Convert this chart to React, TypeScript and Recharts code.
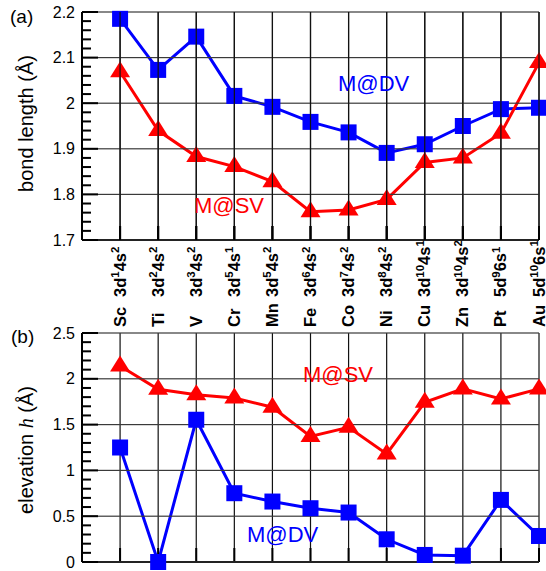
import { LineChart, Line, XAxis, YAxis } from 'recharts';

const elements = ['Sc', 'Ti', 'V', 'Cr', 'Mn', 'Fe', 'Co', 'Ni', 'Cu', 'Zn', 'Pt', 'Au'];
// electron configuration, as [orbital, superscript] pairs
const configs: [string, string][][] = [
  [['3d', '1'], ['4s', '2']],
  [['3d', '2'], ['4s', '2']],
  [['3d', '3'], ['4s', '2']],
  [['3d', '5'], ['4s', '1']],
  [['3d', '5'], ['4s', '2']],
  [['3d', '6'], ['4s', '2']],
  [['3d', '7'], ['4s', '2']],
  [['3d', '8'], ['4s', '2']],
  [['3d', '10'], ['4s', '1']],
  [['3d', '10'], ['4s', '2']],
  [['5d', '9'], ['6s', '1']],
  [['5d', '10'], ['6s', '1']],
];

// (a) bond length, Å
const bondDV = [2.185, 2.073, 2.146, 2.016, 1.992, 1.959, 1.936, 1.891, 1.91, 1.95, 1.987, 1.99];
const bondSV = [2.069, 1.94, 1.883, 1.861, 1.828, 1.762, 1.766, 1.789, 1.87, 1.88, 1.934, 2.089];

// (b) elevation h, Å
const elevDV = [1.25, 0.0, 1.553, 0.751, 0.66, 0.587, 0.54, 0.248, 0.077, 0.069, 0.678, 0.284];
const elevSV = [2.14, 1.885, 1.827, 1.79, 1.69, 1.371, 1.47, 1.18, 1.743, 1.89, 1.78, 1.89];

const bondMajor = [1.7, 1.8, 1.9, 2.0, 2.1, 2.2];
const elevMajor = [0, 0.5, 1, 1.5, 2, 2.5];
const catTicks = elements.map((_, i) => i + 1);

const minorTicks = (lo: number, hi: number, step: number) => {
  const n = Math.round((hi - lo) / step);
  return Array.from({ length: n + 1 }, (_, i) => +(lo + i * step).toFixed(4));
};
const bondMinor = minorTicks(1.7, 2.2, 0.02);
const elevMinor = minorTicks(0, 2.5, 0.1);

const bondRows = elements.map((el, i) => ({ idx: i + 1, name: el, dv: bondDV[i], sv: bondSV[i] }));
const elevRows = elements.map((el, i) => ({ idx: i + 1, name: el, dv: elevDV[i], sv: elevSV[i] }));

const FONT = '"Liberation Sans", Arial, Helvetica, sans-serif';
const BLUE = '#0000ff';
const RED = '#ff0000';
const CHART_W = 546;
const Y_AXIS_W = 82;
const RIGHT = 7;
const PLOT_W = CHART_W - Y_AXIS_W - RIGHT;
const N = elements.length;
const isMajor = (majors: number[], v: number) => majors.some((m) => Math.abs(m - v) < 1e-6);
const fmt = (v: number) => String(+v.toFixed(1));

const squareDot = (props: any) => {
  const { cx, cy, index } = props;
  if (cx == null || cy == null) return <g key={`s-${index}`} />;
  return <rect key={`s-${index}`} x={cx - 8} y={cy - 8} width={16} height={16} fill={BLUE} />;
};

const triangleDot = (props: any) => {
  const { cx, cy, index } = props;
  if (cx == null || cy == null) return <g key={`t-${index}`} />;
  return (
    <polygon
      key={`t-${index}`}
      points={`${cx},${cy - 10.5} ${cx - 10},${cy + 5.5} ${cx + 10},${cy + 5.5}`}
      fill={RED}
    />
  );
};

// helper series: y tick values spread over the rows, chunk k holds ticks k*N .. k*N+N-1
const tickChunk = (minors: number[], k: number) => (row: any) => {
  const v = minors[row.idx - 1 + k * N];
  return v == null ? null : v;
};

// horizontal grid line (majors) and inward tick mark at each y tick
const makeYMarkDot = (minors: number[], majors: number[], k: number) => (props: any) => {
  const { cy, index } = props;
  const v = minors[index + k * N];
  if (v == null || cy == null || Number.isNaN(cy)) return <g key={`ym-${k}-${index}`} />;
  const major = isMajor(majors, v);
  return (
    <g key={`ym-${k}-${index}`}>
      {major && <rect x={Y_AXIS_W} y={cy - 0.6} width={PLOT_W} height={1.2} fill="#3a3a3a" />}
      <rect x={Y_AXIS_W} y={cy - 1} width={major ? 16 : 9} height={2} fill="#000" />
    </g>
  );
};

// vertical grid line and inward tick mark at each category (helper series sits on the bottom edge)
const makeXMarkDot = (plotH: number) => (props: any) => {
  const { cx, cy, index } = props;
  if (cx == null || cy == null) return <g key={`xm-${index}`} />;
  return (
    <g key={`xm-${index}`}>
      <rect x={cx - 0.6} y={cy - plotH} width={1.2} height={plotH} fill="#111" />
      <rect x={cx - 1} y={cy - 14} width={2} height={14} fill="#000" />
    </g>
  );
};

const frameSeries = (minors: number[], majors: number[], lo: number, plotH: number) => [
  <Line
    key="xmarks"
    dataKey={() => lo}
    stroke="none"
    dot={makeXMarkDot(plotH)}
    activeDot={false}
    legendType="none"
    isAnimationActive={false}
  />,
  ...[0, 1, 2].map((k) => (
    <Line
      key={`ymarks-${k}`}
      dataKey={tickChunk(minors, k)}
      stroke="none"
      dot={makeYMarkDot(minors, majors, k)}
      activeDot={false}
      legendType="none"
      isAnimationActive={false}
    />
  )),
];

// category tick of panel (a): rotated element + configuration labels
const CategoryTick = (props: any) => {
  const { x, y, payload } = props;
  const i = payload.value - 1;
  const cfg = configs[i];
  if (!cfg) return <g />;
  return (
    <g>
      <rect x={x - 0.6} y={y - 228} width={1.2} height={228} fill="#111" />
      <rect x={x - 1} y={y - 14} width={2} height={14} fill="#000" />
      <g transform={`translate(${x + 5.5}, ${y}) rotate(-90)`}>
        <text x={-87} y={0} fontSize={16.5} fontWeight="bold" fontFamily={FONT} fill="#000">
          {elements[i]}
        </text>
        <text x={-57} y={0} fontSize={16.5} fontWeight="bold" fontFamily={FONT} fill="#000">
          {cfg.map(([orb, sup], k) => (
            <tspan key={k}>
              <tspan dy={k === 0 ? 0 : 6.5}>{orb}</tspan>
              <tspan dy={-6.5} fontSize={11.5}>{sup}</tspan>
            </tspan>
          ))}
        </text>
      </g>
    </g>
  );
};

const axisStyle = { stroke: '#000', strokeWidth: 2 };
const tickFont = { fontSize: 16, fill: '#000', fontFamily: FONT };

export default function App() {
  return (
    <div style={{ position: 'absolute', left: 0, top: 0, width: 546, height: 571, background: '#fff', overflow: 'hidden' }}>
      <div style={{ position: 'absolute', left: 0, top: 0 }}>
        <LineChart width={CHART_W} height={330} data={bondRows} margin={{ top: 12, right: RIGHT, left: 0, bottom: 0 }}>
          <XAxis
            dataKey="idx"
            type="number"
            domain={[0, 12]}
            ticks={catTicks}
            interval={0}
            height={90}
            tickSize={0}
            tickMargin={0}
            tickLine={false}
            axisLine={axisStyle}
            tick={CategoryTick}
          />
          <YAxis
            type="number"
            domain={[1.7, 2.2]}
            ticks={bondMajor}
            interval={0}
            width={Y_AXIS_W}
            tickSize={0}
            tickMargin={7}
            tickLine={false}
            axisLine={axisStyle}
            tick={tickFont}
            tickFormatter={fmt}
          />
          {frameSeries(bondMinor, bondMajor, 1.7, 228)}
          <Line dataKey="dv" stroke={BLUE} strokeWidth={3} dot={squareDot} isAnimationActive={false} />
          <Line dataKey="sv" stroke={RED} strokeWidth={3} dot={triangleDot} isAnimationActive={false} />
        </LineChart>
      </div>
      <div style={{ position: 'absolute', left: 0, top: 300 }}>
        <LineChart width={CHART_W} height={271} data={elevRows} margin={{ top: 33, right: RIGHT, left: 0, bottom: 0 }}>
          <XAxis
            dataKey="idx"
            type="number"
            domain={[0, 12]}
            ticks={catTicks}
            interval={0}
            height={9}
            tick={false}
            tickLine={false}
            axisLine={axisStyle}
          />
          <YAxis
            type="number"
            domain={[0, 2.5]}
            ticks={elevMajor}
            interval={0}
            width={Y_AXIS_W}
            tickSize={0}
            tickMargin={7}
            tickLine={false}
            axisLine={axisStyle}
            tick={tickFont}
            tickFormatter={fmt}
          />
          {frameSeries(elevMinor, elevMajor, 0, 229)}
          <Line dataKey="sv" stroke={RED} strokeWidth={3} dot={triangleDot} isAnimationActive={false} />
          <Line dataKey="dv" stroke={BLUE} strokeWidth={3} dot={squareDot} isAnimationActive={false} />
        </LineChart>
      </div>
      <svg
        width={546}
        height={571}
        style={{ position: 'absolute', left: 0, top: 0, pointerEvents: 'none' }}
        fontFamily={FONT}
      >
        <text x={10} y={23} fontSize={19} fill="#000">(a)</text>
        <text x={11} y={343} fontSize={19} fill="#000">(b)</text>
        <text x={33} y={123.5} fontSize={20} textAnchor="middle" transform="rotate(-90, 33, 123.5)" fill="#000">
          bond length (Å)
        </text>
        <text x={33} y={450} fontSize={20} textAnchor="middle" transform="rotate(-90, 33, 450)" fill="#000">
          elevation{' '}
          <tspan fontStyle="italic" fontFamily='"Liberation Serif", "Times New Roman", serif'>h</tspan>
          {' '}(Å)
        </text>
        <text x={338} y={91} fontSize={22} fill={BLUE}>M@DV</text>
        <text x={194} y={213} fontSize={22} fill={RED}>M@SV</text>
        <text x={303} y={382} fontSize={22} fill={RED}>M@SV</text>
        <text x={247} y={542} fontSize={22} fill={BLUE}>M@DV</text>
      </svg>
    </div>
  );
}
